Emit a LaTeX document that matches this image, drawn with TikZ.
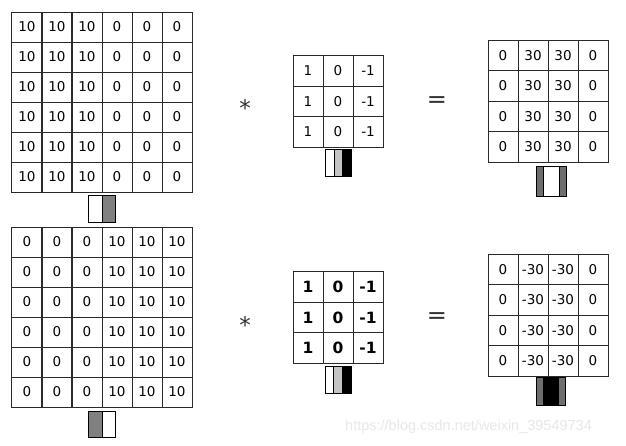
\documentclass[tikz,border=0pt]{standalone}
\usepackage{fontspec}
\setmainfont{DejaVu Sans}
\newfontfamily\wmfont{Liberation Sans}
\usetikzlibrary{matrix}
\definecolor{midgray}{HTML}{808080}
\definecolor{darkgr}{HTML}{6E6E6E}
\definecolor{lightgr}{HTML}{C4C4C4}
\definecolor{gridline}{HTML}{2A2A2A}
\tikzset{
  cell/.style={draw=gridline, line width=1pt, minimum width=30pt, minimum height=#1, inner sep=0pt, anchor=center},
  gridmat/.style={matrix of nodes, column sep=-1pt, row sep=-1pt, nodes={cell=#1}, inner sep=0pt, font=\fontsize{13.5}{14}\selectfont},
  stripe/.style={draw=black, line width=1.2pt, inner sep=0pt, anchor=north west, minimum height=#1},
  opsym/.style={inner sep=0pt, text=black!80}
}
\begin{document}
\begin{tikzpicture}[x=1pt,y=-1pt]
\useasboundingbox (0,0) rectangle (626,445);
\fill[white] (0,0) rectangle (626,445);

% ---------- top row ----------
\matrix[gridmat=30pt] (inA) at (102,102) {
10 & 10 & 10 & 0 & 0 & 0 \\
10 & 10 & 10 & 0 & 0 & 0 \\
10 & 10 & 10 & 0 & 0 & 0 \\
10 & 10 & 10 & 0 & 0 & 0 \\
10 & 10 & 10 & 0 & 0 & 0 \\
10 & 10 & 10 & 0 & 0 & 0 \\
};
\matrix[gridmat=30.5pt] (kA) at (338,101.5) {
1 & 0 & -1 \\
1 & 0 & -1 \\
1 & 0 & -1 \\
};
\matrix[gridmat=30.5pt] (outA) at (548,101) {
0 & 30 & 30 & 0 \\
0 & 30 & 30 & 0 \\
0 & 30 & 30 & 0 \\
0 & 30 & 30 & 0 \\
};
\node[opsym, font=\fontsize{23}{23}\selectfont] (starA) at (245,107.5) {*};
\node[opsym, font=\fontsize{24}{24}\selectfont] (eqA) at (437,102) {=};

% indicators top
\node[stripe=27pt, fill=white, minimum width=13.5pt] (iA1) at (88,195) {};
\node[stripe=27pt, fill=midgray, minimum width=13.5pt] (iA2) at (101.5,195) {};
\node[stripe=27pt, fill=white, minimum width=8.7pt] (kA1) at (325,149) {};
\node[stripe=27pt, fill=lightgr, minimum width=8.7pt] (kA2) at (333.7,149) {};
\node[stripe=27pt, fill=black, minimum width=8.7pt] (kA3) at (342.4,149) {};
\node[stripe=30pt, fill=darkgr, minimum width=7.3pt] (oA1) at (535.5,166) {};
\node[stripe=30pt, fill=white, minimum width=15.7pt] (oA2) at (542.8,166) {};
\node[stripe=30pt, fill=darkgr, minimum width=7.3pt] (oA3) at (558.5,166) {};

% ---------- bottom row ----------
\matrix[gridmat=30pt] (inB) at (102,317) {
0 & 0 & 0 & 10 & 10 & 10 \\
0 & 0 & 0 & 10 & 10 & 10 \\
0 & 0 & 0 & 10 & 10 & 10 \\
0 & 0 & 0 & 10 & 10 & 10 \\
0 & 0 & 0 & 10 & 10 & 10 \\
0 & 0 & 0 & 10 & 10 & 10 \\
};
\matrix[gridmat=30.5pt, font=\bfseries\fontsize{15.5}{16}\selectfont] (kB) at (338,317.5) {
1 & 0 & -1 \\
1 & 0 & -1 \\
1 & 0 & -1 \\
};
\matrix[gridmat=30.5pt] (outB) at (548,315) {
0 & -30 & -30 & 0 \\
0 & -30 & -30 & 0 \\
0 & -30 & -30 & 0 \\
0 & -30 & -30 & 0 \\
};
\node[opsym, font=\fontsize{23}{23}\selectfont] (starB) at (245,324.5) {*};
\node[opsym, font=\fontsize{24}{24}\selectfont] (eqB) at (437,318) {=};

% indicators bottom
\node[stripe=26pt, fill=midgray, minimum width=13.5pt] (iB1) at (88,411) {};
\node[stripe=26pt, fill=white, minimum width=13.5pt] (iB2) at (101.5,411) {};
\node[stripe=27pt, fill=white, minimum width=8.7pt] (kB1) at (324.5,366) {};
\node[stripe=27pt, fill=lightgr, minimum width=8.7pt] (kB2) at (333.2,366) {};
\node[stripe=27pt, fill=black, minimum width=8.7pt] (kB3) at (341.9,366) {};
\node[stripe=28pt, fill=darkgr, minimum width=7.3pt] (oB1) at (535.5,377) {};
\node[stripe=28pt, fill=black, minimum width=14.7pt] (oB2) at (542.8,377) {};
\node[stripe=28pt, fill=darkgr, minimum width=7.3pt] (oB3) at (557.5,377) {};

% watermark
\node[anchor=west, inner sep=0pt, text=black!9, font=\wmfont\fontsize{14.5}{15}\selectfont] (wm) at (345,427) {https://blog.csdn.net/weixin\_39549734};
\end{tikzpicture}
\end{document}
